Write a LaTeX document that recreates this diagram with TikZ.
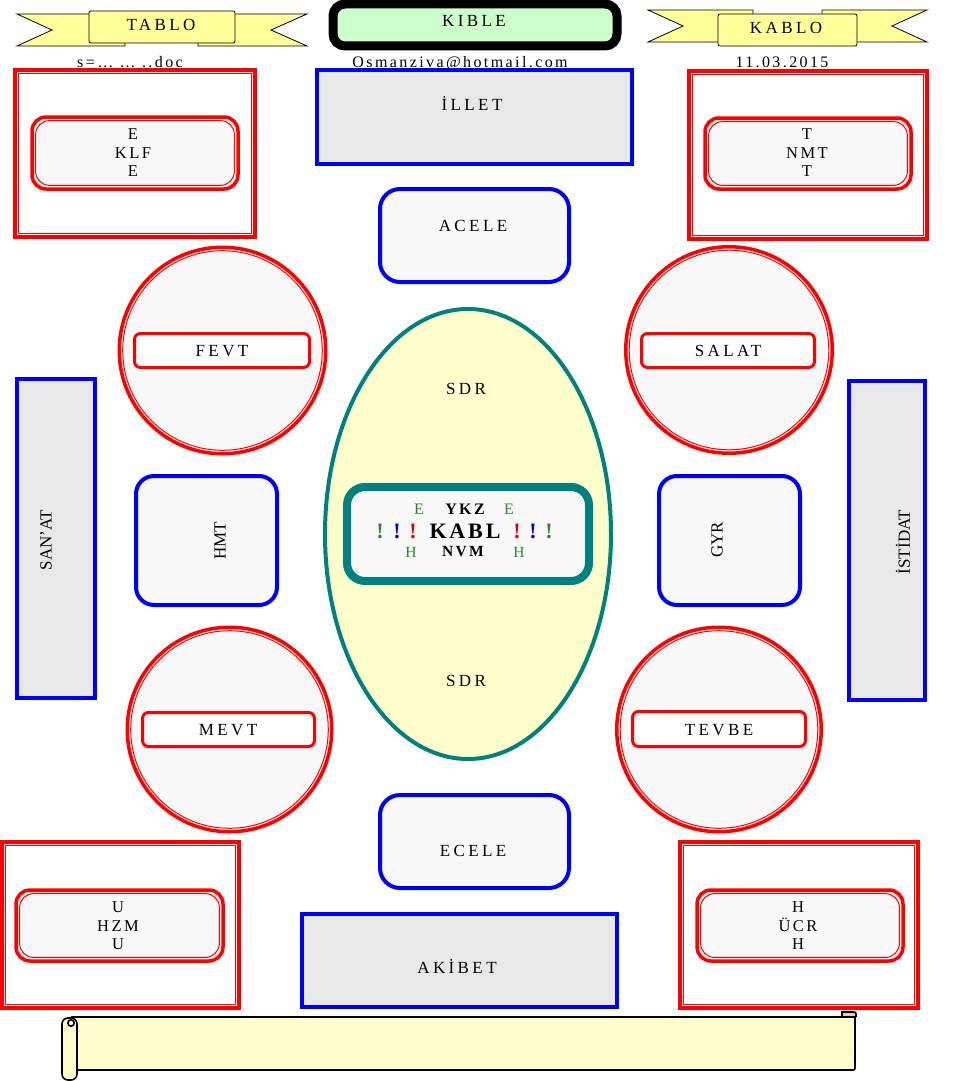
\documentclass[tikz,border=0pt]{standalone}
\usepackage{fontspec}
\setmainfont{Liberation Serif}
\newfontfamily\spfont[LetterSpace=20]{Liberation Serif}
\newfontfamily\spfontc[LetterSpace=15]{Liberation Serif}
\newfontfamily\spfontb[LetterSpace=13]{Liberation Serif}
\definecolor{rd}{HTML}{FF0000}
\definecolor{bl}{HTML}{0000FF}
\definecolor{tl}{HTML}{008080}
\definecolor{gra}{HTML}{F8F8F8}
\definecolor{grb}{HTML}{E8E8E8}
\definecolor{ylw}{HTML}{FFFFCC}
\definecolor{rib}{HTML}{FFFF99}
\definecolor{kgr}{HTML}{CCFFCC}
\definecolor{dgr}{HTML}{2A8A2A}
\definecolor{tan}{HTML}{E6D2A8}
\definecolor{exred}{HTML}{E00000}
\definecolor{exblue}{HTML}{0000CC}
\tikzset{
  lbl/.style={font=\spfont\fontsize{17}{19}\selectfont, inner sep=0pt, align=center},
  cbl/.style={font=\spfontc\fontsize{16.5}{18.5}\selectfont, inner sep=0pt, align=center},
  toptxt/.style={font=\spfontc\fontsize{16}{18}\selectfont, inner sep=0pt, anchor=base},
  rot/.style={font=\fontsize{17}{19}\selectfont, inner sep=0pt, rotate=90},
  bluerect/.style={draw=bl, line width=4pt, fill=grb},
  blueround/.style={draw=bl, line width=4pt, fill=gra, rounded corners=18pt},
  thickred/.style={draw=rd, line width=3.5pt},
  thinred/.style={draw=rd, line width=1pt},
  innerred/.style={draw=rd, line width=3pt, fill=white, rounded corners=6pt},
  ribbon/.style={draw=black, line width=0.8pt, fill=rib},
  midrow/.style={font=\spfontc\fontsize{16}{16}\selectfont, inner sep=0pt},
  bigrow/.style={font=\spfontb\bfseries\fontsize{22}{22}\selectfont, inner sep=0pt},
  scroll/.style={draw=black, line width=1.6pt, fill=ylw},
}
\newcommand\dframe[6]{%
  \draw[thickred, fill=#6, rounded corners=#5] (#1+2,#2+2) rectangle (#3-2,#4-2);
  \draw[thinred, rounded corners=#5] (#1+5.6,#2+5.6) rectangle (#3-5.6,#4-5.6);}
\newcommand\dcirc[3]{%
  \draw[thickred, fill=gra] (#1,#2) circle[radius=#3-1.75];
  \draw[thinred] (#1,#2) circle[radius=#3-5.2];}
\begin{document}
\begin{tikzpicture}[x=1pt,y=-1pt]
\useasboundingbox[fill=white] (0,0) rectangle (960,1081);

% ---- top ribbons ----
\draw[ribbon] (17,14) -- (125,14) -- (125,46) -- (17,46) -- (52,30) -- cycle;
\draw[ribbon] (307,14) -- (198,14) -- (198,46) -- (307,46) -- (271,30) -- cycle;
\draw[ribbon, rounded corners=2pt] (89,11) rectangle (235,43);
\node[lbl] (tablo) at (161,25) {TABLO};

\draw[ribbon] (648,10) -- (753,10) -- (753,42) -- (648,42) -- (683,26) -- cycle;
\draw[ribbon] (927,10) -- (822,10) -- (822,42) -- (927,42) -- (892,26) -- cycle;
\draw[ribbon, rounded corners=2pt] (718,14) rectangle (857,46);
\node[lbl] (kablo) at (786,28) {KABLO};

% ---- KIBLE ----
\draw[draw=black, line width=9pt, fill=kgr, rounded corners=12pt] (333,4) rectangle (617,46);
\node[lbl] (kible) at (474,21) {KIBLE};

% ---- small top texts ----
\node[toptxt] (doc) at (130,67) {s=… … ..doc};
\node[toptxt] (mail) at (460,67) {Osmanziva@hotmail.com};
\node[toptxt] (date) at (782,67) {11.03.2015};

% ---- corner boxes ----
\dframe{13}{68}{257}{239}{0pt}{none}
\dframe{30}{115}{240}{191}{14pt}{gra}
\node[cbl] (klf) at (133,153) {E\\KLF\\E};

\dframe{687}{69}{929}{241}{0pt}{none}
\dframe{703}{116}{913}{191}{14pt}{gra}
\node[cbl] (nmt) at (807,153) {T\\NMT\\T};

\dframe{0}{840}{241}{1010}{0pt}{none}
\dframe{14}{888}{225}{963}{14pt}{gra}
\node[cbl] (hzm) at (118,926) {U\\HZM\\U};

\dframe{678}{840}{920}{1010}{0pt}{none}
\dframe{695}{888}{905}{963}{14pt}{gra}
\node[cbl] (ucr) at (798,926) {H\\ÜCR\\H};

% ---- blue boxes ----
\draw[bluerect] (317,70) rectangle (632,164);
\node[lbl] (illet) at (472,103) {İLLET};
\draw[blueround, rounded corners=20pt] (380,189) rectangle (569,282);
\node[lbl] (acele) at (473,226) {ACELE};
\draw[blueround, rounded corners=20pt] (380,795) rectangle (569,888);
\node[lbl] (ecele) at (473,851) {ECELE};
\draw[bluerect] (302,914) rectangle (617,1007);
\node[lbl] (akibet) at (457,966) {AKİBET};

\draw[bluerect] (17,379) rectangle (95,698);
\node[rot] (sanat) at (46,540) {SAN’AT};
\draw[bluerect] (849,381) rectangle (925,700);
\node[rot] (istidat) at (903,542) {İSTİDAT};
\draw[blueround] (136,476) rectangle (277,605);
\node[rot] (hmt) at (220,541) {HMT};
\draw[blueround] (659,476) rectangle (800,605);
\node[rot] (gyr) at (717,540) {GYR};

% ---- circles ----
\dcirc{222.5}{350.5}{105}
\draw[innerred] (134.5,333.5) rectangle (309.5,367.5);
\node[lbl] (fevt) at (222,351) {FEVT};
\dcirc{729}{350}{105}
\draw[innerred] (641.5,333.5) rectangle (814.5,367.5);
\node[lbl] (salat) at (728,351) {SALAT};
\dcirc{229.5}{729.5}{104}
\draw[innerred] (142.5,712.5) rectangle (314.5,746.5);
\node[lbl] (mevt) at (228,730) {MEVT};
\dcirc{719}{729.5}{104}
\draw[innerred] (632.5,711.5) rectangle (805.5,746.5);
\node[lbl] (tevbe) at (719,730) {TEVBE};

% ---- ellipse ----
\draw[draw=tl, line width=4pt, fill=ylw] (468,534) ellipse[x radius=143, y radius=225];
\node[lbl] (sdr1) at (466,389) {SDR};
\node[lbl] (sdr2) at (466,681) {SDR};

% ---- central box ----
\draw[draw=tl, line width=8pt, fill=gra, rounded corners=18pt] (347,487) rectangle (589,581);
\node[midrow, text=dgr] (e1) at (419,509) {E};
\node[midrow, font=\spfontc\bfseries\fontsize{16}{16}\selectfont] (ykz) at (465,509) {YKZ};
\node[midrow, text=dgr] (e2) at (509,509) {E};
\node[bigrow, text=dgr] (x1) at (380,531) {!};
\node[bigrow, text=exblue] (x2) at (397,531) {!};
\node[bigrow, text=exred] (x3) at (413,531) {!};
\node[bigrow] (kabl) at (465,531) {KABL};
\node[bigrow, text=exred] (x4) at (517,531) {!};
\node[bigrow, text=exblue] (x5) at (533,531) {!};
\node[bigrow, text=dgr] (x6) at (549,531) {!};
\node[midrow, text=dgr, font=\spfontc\fontsize{15.5}{15.5}\selectfont] (h1) at (411,552) {H};
\node[midrow, font=\spfontc\bfseries\fontsize{15.5}{15.5}\selectfont] (nvm) at (463,552) {NVM};
\node[midrow, text=dgr, font=\spfontc\fontsize{15.5}{15.5}\selectfont] (h2) at (519,552) {H};

% ---- scroll ----
\draw[scroll, fill=tan] (842,1017) -- (842,1012) -- (852,1012) .. controls (856,1012) .. (856,1016) -- (856,1017);
\draw[scroll] (72,1017) -- (855,1017) -- (855,1066) .. controls (855,1070) .. (851,1070) -- (72,1070) -- cycle;
\draw[scroll, rounded corners=6pt] (62,1018) rectangle (77,1080);
\draw[scroll] (71,1023) circle[radius=3.2];
\end{tikzpicture}
\end{document}
